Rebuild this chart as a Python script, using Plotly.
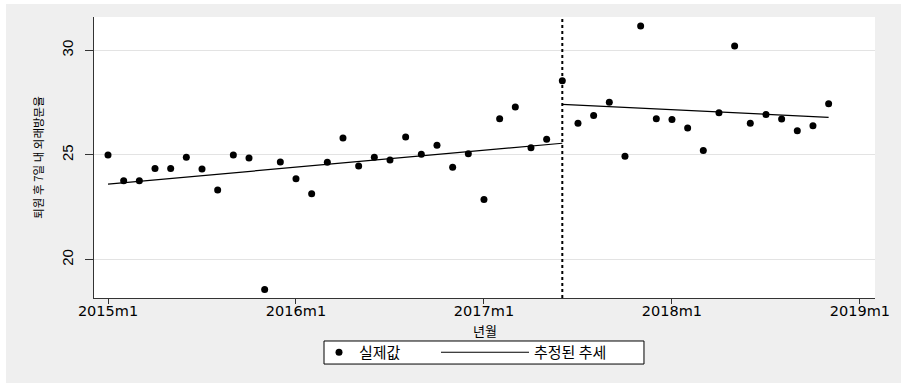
import plotly.graph_objects as go

# ---- data ----
month_labels = [f"{2015 + i // 12}m{i % 12 + 1}" for i in range(47)]
month_index = list(range(len(month_labels)))
actual_rate = [25.00, 23.77, 23.77, 24.36, 24.36, 24.89, 24.33, 23.33, 25.00, 24.86,
               18.58, 24.67, 23.87, 23.15, 24.65, 25.81, 24.47, 24.89, 24.76, 25.86,
               25.03, 25.46, 24.41, 25.06, 22.87, 26.73, 27.29, 25.35, 25.75, 28.55,
               26.51, 26.88, 27.52, 24.94, 31.16, 26.73, 26.69, 26.29, 25.22, 27.02,
               30.21, 26.51, 26.93, 26.72, 26.16, 26.40, 27.45]
intervention_month = 29
pre_trend_x = [0, 29]
pre_trend_y = [23.61, 25.56]
post_trend_x = [29, 46]
post_trend_y = [27.42, 26.80]
x_tickvals = [0, 12, 24, 36, 48]
x_ticktext = ["2015m1", "2016m1", "2017m1", "2018m1", "2019m1"]
y_tickvals = [20, 25, 30]
x_title = "년월"
y_title = "퇴원 후 7일 내 외래방문율"

KR = "Noto Sans CJK KR"
GRAY = "#efefef"

fig = go.Figure()
fig.add_trace(go.Scatter(
    x=month_index, y=actual_rate, mode="markers", name="실제값",
    marker=dict(color="black", size=7, symbol="circle"), showlegend=True,
    legend="legend"))
fig.add_trace(go.Scatter(
    x=pre_trend_x, y=pre_trend_y, mode="lines", name="추정된 추세",
    line=dict(color="black", width=1.2), showlegend=True, legendgroup="trend",
    legend="legend2"))
fig.add_trace(go.Scatter(
    x=post_trend_x, y=post_trend_y, mode="lines", name="추정된 추세",
    line=dict(color="black", width=1.2), showlegend=False, legendgroup="trend",
    legend="legend2"))

# thin white outer border (top and left)
fig.add_shape(type="rect", xref="paper", yref="paper",
              x0=-0.2, x1=1.1, y0=1.046, y1=1.2,
              fillcolor="white", line_width=0, layer="below")
fig.add_shape(type="rect", xref="paper", yref="paper",
              x0=-0.2, x1=-0.1127, y0=-0.4, y1=1.2,
              fillcolor="white", line_width=0, layer="below")
# legend frame
fig.add_shape(type="rect", xref="paper", yref="paper",
              x0=0.2945, x1=0.7042, y0=-0.235, y1=-0.153,
              fillcolor="white", line=dict(color="black", width=1), layer="below")
# intervention line
fig.add_shape(type="line", xref="x", yref="paper",
              x0=intervention_month, x1=intervention_month, y0=0, y1=1,
              line=dict(color="black", width=2, dash="dot"), layer="above")

# x-axis title
fig.add_annotation(text=x_title, xref="paper", yref="paper", x=0.5, y=-0.1174,
                   xanchor="center", yanchor="middle", showarrow=False, borderpad=0,
                   font=dict(family=KR, size=13, color="black"))

legend_common = dict(orientation="h", yref="container", xref="container",
                     y=0.0796, yanchor="middle", xanchor="left",
                     bgcolor="rgba(0,0,0,0)", borderwidth=0,
                     font=dict(family=KR, size=15))

fig.update_layout(
    width=901, height=383,
    margin=dict(l=94, r=26, t=17, b=85),
    paper_bgcolor=GRAY, plot_bgcolor="white",
    font=dict(family="DejaVu Sans, " + KR, color="black"),
    showlegend=True,
    legend=dict(x=319 / 901, itemwidth=30, **legend_common),
    legend2=dict(x=436 / 901, itemwidth=88, **legend_common),
    xaxis=dict(range=[-0.894, 48.96], tickvals=x_tickvals, ticktext=x_ticktext,
               showgrid=False, zeroline=False, showline=True, linecolor="#333",
               linewidth=1, ticks="outside", ticklen=5, tickcolor="#333",
               automargin=False, ticklabelstandoff=-5,
               tickfont=dict(family="DejaVu Sans", size=14.5)),
    yaxis=dict(range=[18.17, 31.59], tickvals=y_tickvals, tickangle=-90,
               showgrid=True, gridcolor="#e3e3e3", gridwidth=1, zeroline=False,
               showline=True, linecolor="#333", linewidth=1,
               ticks="outside", ticklen=8, tickcolor="#333",
               ticklabelstandoff=6, automargin=False,
               tickfont=dict(family="Liberation Sans", size=15),
               title=dict(text=y_title, font=dict(family=KR, size=11.5),
                          standoff=12)),
)

fig.write_html("out.html", config={"displayModeBar": False},
               post_script="document.body.style.margin='0';")
